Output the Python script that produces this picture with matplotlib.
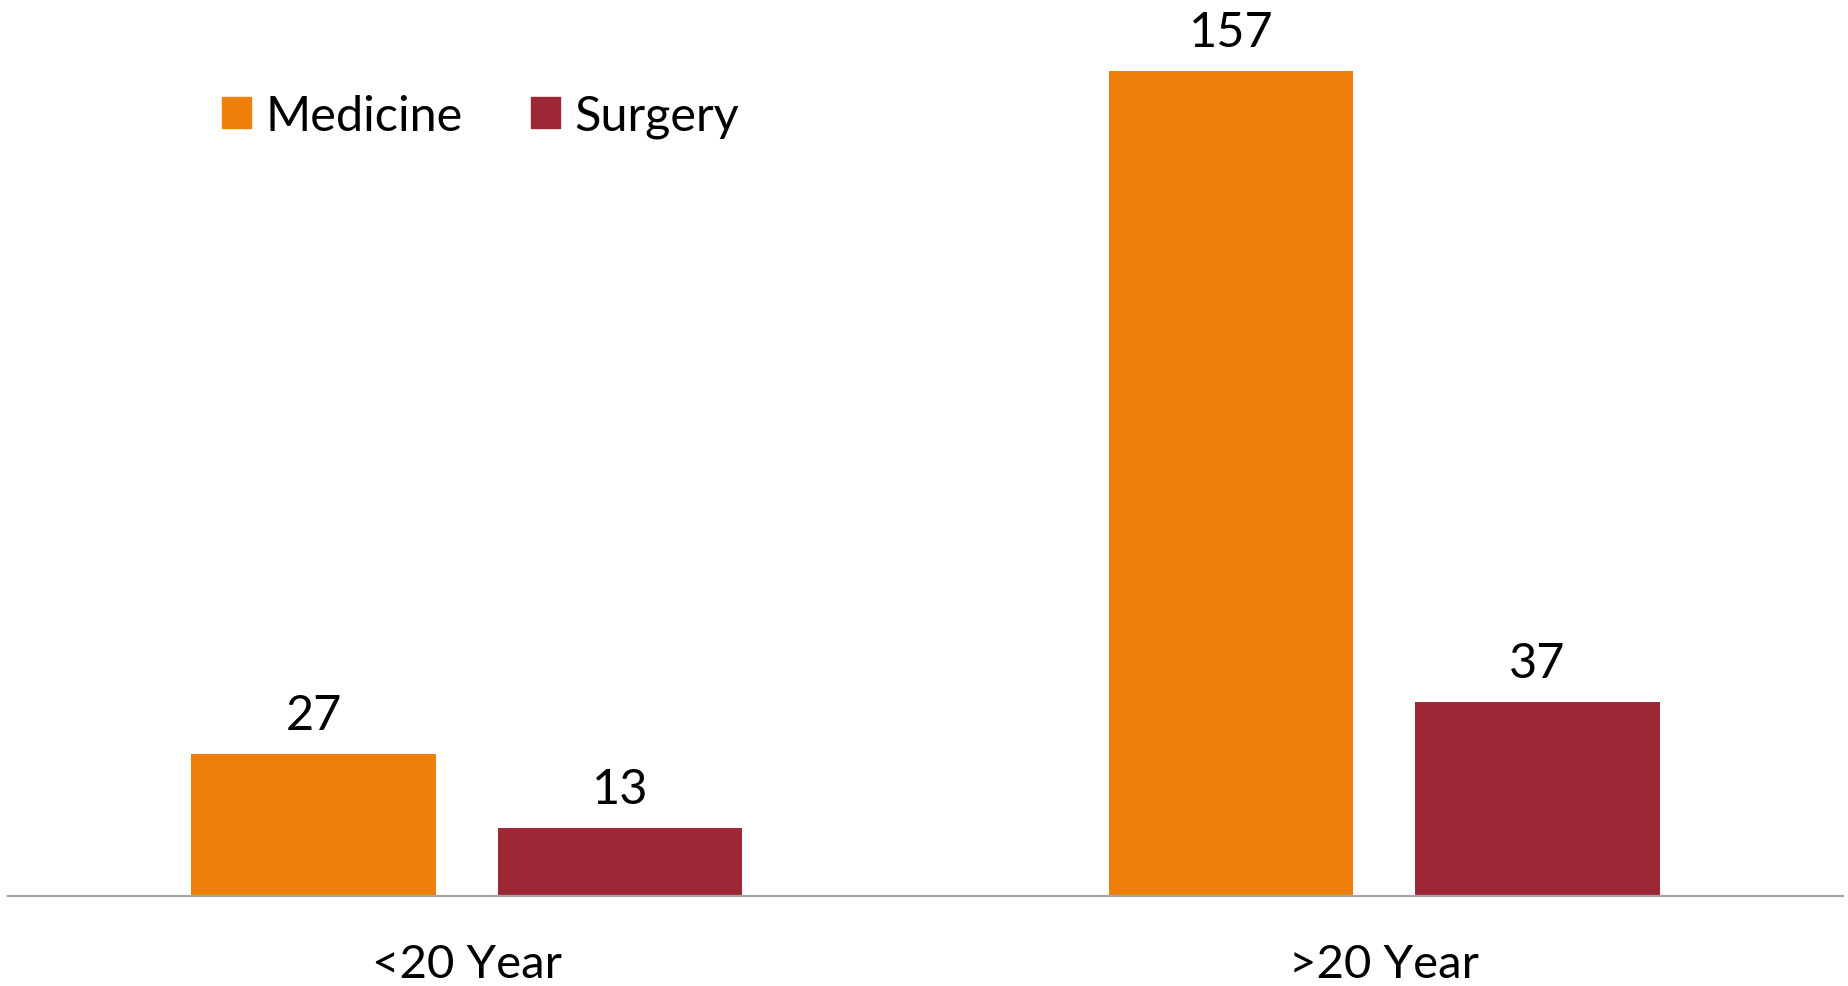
import matplotlib
matplotlib.use("Agg")
import matplotlib.pyplot as plt
import numpy as np
from matplotlib.patches import Patch

categories = ["<20 Year", ">20 Year"]
medicine = [27, 157]
surgery = [13, 37]
series_names = ["Medicine", "Surgery"]
colors = ["#EE7F0B", "#9E2736"]

plt.rcParams['font.family'] = ['Lato', 'DejaVu Sans']

W, H = 1849, 987
fig = plt.figure(figsize=(W / 100, H / 100), dpi=100)
ax = fig.add_axes([8 / W, 1 - 897 / H, (1843 - 8) / W, 897 / H])

x = np.arange(len(categories))
bw = 0.266
off = 0.167
b1 = ax.bar(x - off, medicine, bw, color=colors[0])
b2 = ax.bar(x + off, surgery, bw, color=colors[1])
ax.bar_label(b1, padding=12, fontsize=35)
ax.bar_label(b2, padding=12, fontsize=35)

ax.set_xlim(-0.5, 1.5)
ax.set_ylim(0, 897 / 5.255)
ax.set_xticks(x)
ax.set_xticklabels(categories, fontsize=34)
ax.tick_params(axis='x', length=0, pad=34)
ax.set_yticks([])
for s in ['top', 'left', 'right']:
    ax.spines[s].set_visible(False)
ax.spines['bottom'].set_color('#A6A6A6')
ax.spines['bottom'].set_linewidth(1.6)

handles = [Patch(color=c) for c in colors]
fig.legend(handles, series_names, loc='center left', bbox_to_anchor=(222 / W, 1 - 117 / H),
           ncol=2, frameon=False, fontsize=35, handlelength=0.6, handleheight=0.6,
           handletextpad=0.3, columnspacing=1.4, borderpad=0, borderaxespad=0)

fig.savefig("out.png", dpi=100)
